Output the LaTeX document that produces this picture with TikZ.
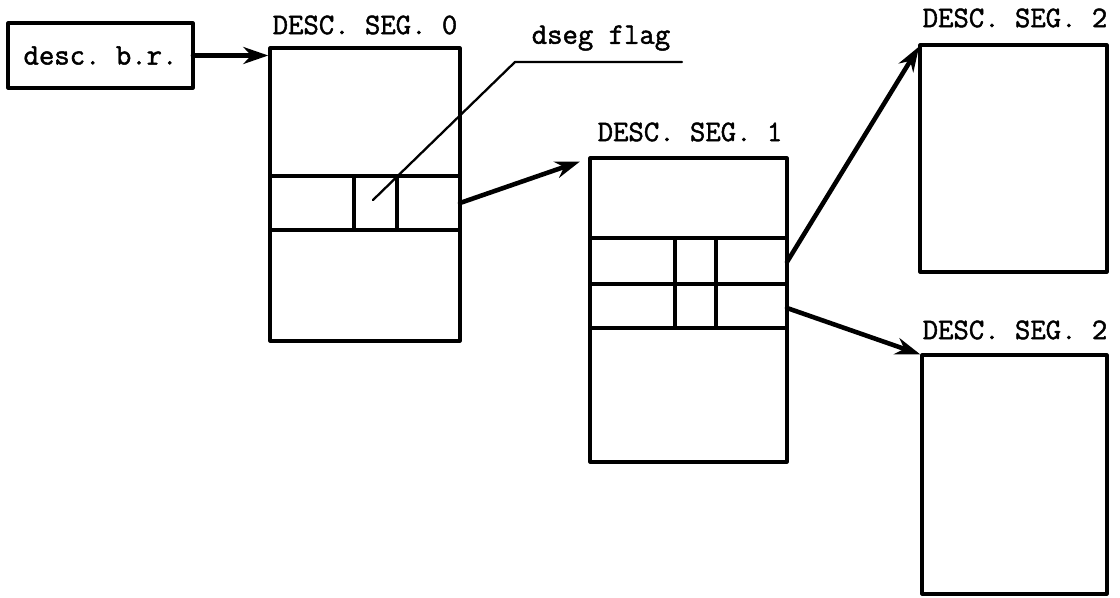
\documentclass[tikz,border=0pt]{standalone}
\usepackage{fontspec}
\setmonofont{Latin Modern Mono}[FakeBold=1.6]
\usetikzlibrary{arrows.meta}

\tikzset{
  segbox/.style={draw,line width=1.8pt,inner sep=0pt,outer sep=0pt},
  cell/.style={line width=1.8pt},
  lbl/.style={inner sep=0pt,font=\ttfamily\fontsize{17}{19}\selectfont},
  ptr/.style={->,line width=2.6pt,shorten >=1pt}
}

\begin{document}
\begin{tikzpicture}[x=0.02cm,y=-0.02cm,>={Stealth[length=5mm,width=3.4mm]},line cap=round,line join=round]
\useasboundingbox (0,0) rectangle (1120,598);
% boxes
\node[segbox,minimum width=3.7cm,minimum height=1.3cm] (br) at (100.5,55.5) {};
\node[lbl] at (br) {desc. b.r.};
\node[segbox,minimum width=3.8cm,minimum height=5.86cm] (seg0) at (365,194.5) {};
\node[segbox,minimum width=3.94cm,minimum height=6.08cm] (seg1) at (688.5,310) {};
\node[segbox,minimum width=3.74cm,minimum height=4.54cm] (seg2a) at (1013.5,158.5) {};
\node[segbox,minimum width=3.7cm,minimum height=4.78cm] (seg2b) at (1014.5,474.5) {};
% titles
\node[lbl] (t0) at (365,25) {DESC. SEG. 0};
\node[lbl] (t1) at (690,132) {DESC. SEG. 1};
\node[lbl] (t2a) at (1015,18) {DESC. SEG. 2};
\node[lbl] (t2b) at (1015,330) {DESC. SEG. 2};
\node[lbl] (flag) at (601,38) {dseg flag};
% rows in seg 0
\draw[cell] (seg0.west |- 0,176) -- (seg0.east |- 0,176);
\draw[cell] (seg0.west |- 0,230) -- (seg0.east |- 0,230);
\draw[cell] (354,176) -- (354,230);
\draw[cell] (397,176) -- (397,230);
% rows in seg 1
\draw[cell] (seg1.west |- 0,238) -- (seg1.east |- 0,238);
\draw[cell] (seg1.west |- 0,284) -- (seg1.east |- 0,284);
\draw[cell] (seg1.west |- 0,328) -- (seg1.east |- 0,328);
\draw[cell] (675,238) -- (675,328);
\draw[cell] (716,238) -- (716,328);
% flag pointer
\coordinate (fl) at (682,62);
\coordinate (fk) at (515,62);
\coordinate (fc) at (373,200);
\draw[line width=1.3pt] (fl) -- (fk) -- (fc);
% links
\coordinate (s0) at (seg0.east |- 0,203);
\coordinate (s1a) at (seg1.east |- 0,262);
\coordinate (s1b) at (seg1.east |- 0,308);
\draw[ptr] (br.east) -- (br.east -| seg0.west);
\draw[ptr,shorten >=6pt] (s0) -- (seg1.north west);
\draw[ptr] (s1a) -- (seg2a.north west);
\draw[ptr] (s1b) -- (seg2b.north west);
\end{tikzpicture}
\end{document}
